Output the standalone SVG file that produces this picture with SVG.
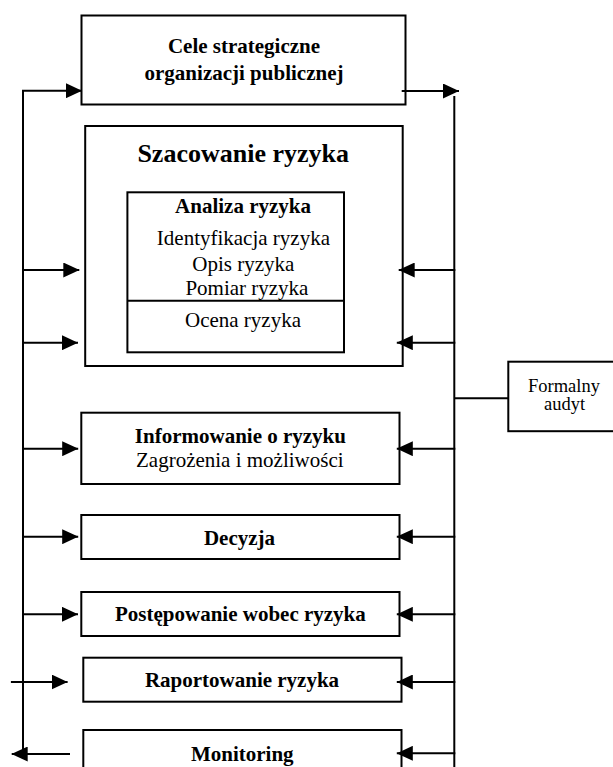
<svg xmlns="http://www.w3.org/2000/svg" width="613" height="767" viewBox="0 0 613 767">
<defs>
<style>
.box{fill:#fff;stroke:#000;stroke-width:2}
.ln{fill:none;stroke:#000;stroke-width:2}
.t{font-family:"Liberation Serif","Times New Roman",serif;font-size:21px;text-anchor:middle;fill:#000}
.b{font-weight:bold}
</style>
<marker id="ah" viewBox="0 0 16 15" refX="16" refY="7.5" markerWidth="16" markerHeight="15" orient="auto" markerUnits="userSpaceOnUse"><path d="M0,0 L16,7.5 L0,15 z" fill="#000"/></marker>
</defs>
<rect width="613" height="767" fill="#fff"/>
<g id="cele">
<rect class="box" x="81.5" y="15.5" width="324" height="89"/>
<text class="t b" x="244" y="53.3">Cele strategiczne</text>
<text class="t b" x="244" y="79.5">organizacji publicznej</text>
</g>
<g id="szacowanie">
<rect class="box" x="85.2" y="126" width="317.5" height="240"/>
<text class="t b" x="243.2" y="162.3" style="font-size:26px">Szacowanie ryzyka</text>
</g>
<g id="analiza">
<rect class="box" x="127.4" y="192.3" width="216.6" height="160"/>
<line class="ln" x1="127.4" y1="300.7" x2="344" y2="300.7"/>
<text class="t b" x="243" y="213.3">Analiza ryzyka</text>
<text class="t" x="243.4" y="245">Identyfikacja ryzyka</text>
<text class="t" x="243.4" y="270.7">Opis ryzyka</text>
<text class="t" x="246.9" y="295">Pomiar ryzyka</text>
<text class="t" x="243" y="326.7">Ocena ryzyka</text>
</g>
<g id="formalny">
<rect class="box" x="508.3" y="361.7" width="110" height="69.5"/>
<text class="t" x="564" y="391.7" style="font-size:18.5px">Formalny</text>
<text class="t" x="564.5" y="410" style="font-size:18.5px">audyt</text>
</g>
<g id="informowanie">
<rect class="box" x="81.3" y="412.7" width="318.2" height="71.3"/>
<text class="t b" x="240.4" y="443.3">Informowanie o ryzyku</text>
<text class="t" x="239.8" y="466.7">Zagrożenia i możliwości</text>
</g>
<g id="decyzja">
<rect class="box" x="81.3" y="515" width="318.2" height="44"/>
<text class="t b" x="239.5" y="545">Decyzja</text>
</g>
<g id="postepowanie">
<rect class="box" x="81.3" y="592" width="318.2" height="44"/>
<text class="t b" x="240.4" y="621">Postępowanie wobec ryzyka</text>
</g>
<g id="raportowanie">
<rect class="box" x="83.3" y="657.7" width="318.2" height="44"/>
<text class="t b" x="242" y="687.3">Raportowanie ryzyka</text>
</g>
<g id="monitoring">
<rect class="box" x="83.3" y="730" width="318.2" height="50"/>
<text class="t b" x="242.3" y="760.7">Monitoring</text>
</g>
<g id="connectors">
<path class="ln" d="M23,90.7 V757"/>
<path class="ln" d="M22,90.7 H82" marker-end="url(#ah)"/>
<path class="ln" d="M22,270 H79.3" marker-end="url(#ah)"/>
<path class="ln" d="M22,342.7 H78" marker-end="url(#ah)"/>
<path class="ln" d="M22,448.7 H78.2" marker-end="url(#ah)"/>
<path class="ln" d="M22,536.7 H78.2" marker-end="url(#ah)"/>
<path class="ln" d="M22,614.3 H78" marker-end="url(#ah)"/>
<path class="ln" d="M10.9,682 H67.6" marker-end="url(#ah)"/>
<path class="ln" d="M70,754 H11.7" marker-end="url(#ah)"/>
<path class="ln" d="M454.3,96 V767"/>
<path class="ln" d="M401.7,91 H459" marker-end="url(#ah)"/>
<path class="ln" d="M455.3,270 H398.7" marker-end="url(#ah)"/>
<path class="ln" d="M455.3,342.7 H396.8" marker-end="url(#ah)"/>
<path class="ln" d="M455.3,448.7 H396.8" marker-end="url(#ah)"/>
<path class="ln" d="M455.3,536.7 H396.8" marker-end="url(#ah)"/>
<path class="ln" d="M455.3,614.3 H396.8" marker-end="url(#ah)"/>
<path class="ln" d="M455.3,682 H396.8" marker-end="url(#ah)"/>
<path class="ln" d="M455.3,753.3 H396.8" marker-end="url(#ah)"/>
<path class="ln" d="M454.3,398.3 H508.3"/>
</g>
</svg>
